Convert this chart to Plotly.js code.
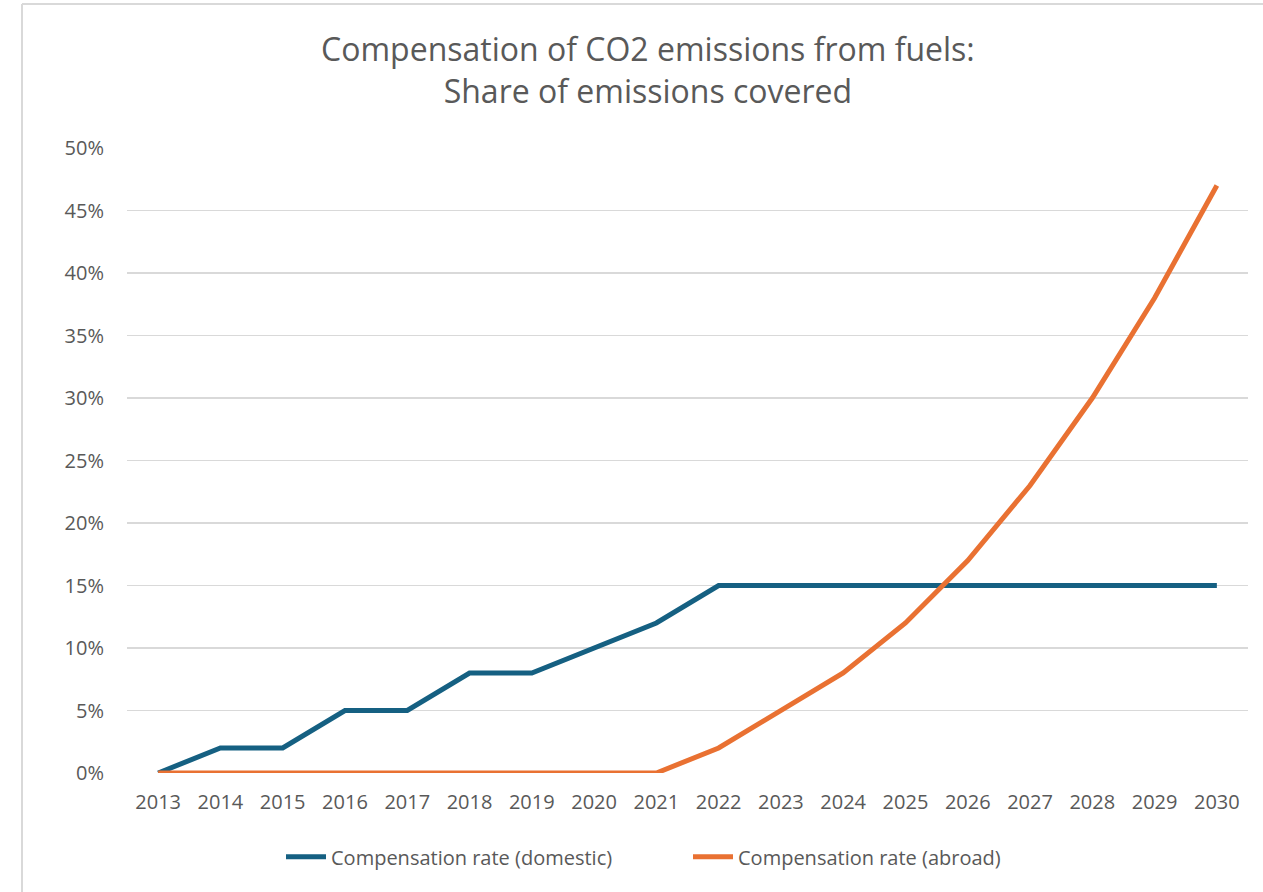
<!DOCTYPE html>
<html>
<head>
<meta charset="utf-8">
<script src="https://cdn.plot.ly/plotly-3.0.1.min.js"></script>
<style>
html,body{margin:0;padding:0;background:#fff;}
#chart{width:1263px;height:892px;}
</style>
</head>
<body>
<div id="chart"></div>
<script>
const years = [2013,2014,2015,2016,2017,2018,2019,2020,2021,2022,2023,2024,2025,2026,2027,2028,2029,2030];
const domestic = [0,2,2,5,5,8,8,10,12,15,15,15,15,15,15,15,15,15];
const abroad = [0,0,0,0,0,0,0,0,0,2,5,8,12,17,23,30,38,47];
const seriesNames = ['Compensation rate (domestic)', 'Compensation rate (abroad)'];
const yTicks = [0,5,10,15,20,25,30,35,40,45,50];
const yTickLabels = yTicks.map(v => v + '%');

const font = '"Open Sans", Roboto, sans-serif';
const grey = '#595959';

const traces = [
  {x: years, y: domestic, name: seriesNames[0], type: 'scatter', mode: 'lines',
   line: {color: '#156082', width: 5}},
  {x: years, y: abroad, name: seriesNames[1], type: 'scatter', mode: 'lines',
   line: {color: '#E97132', width: 5}}
];

const layout = {
  width: 1263, height: 892,
  paper_bgcolor: '#fff', plot_bgcolor: '#fff',
  margin: {l: 127, r: 15, t: 148, b: 119},
  title: {text: 'Compensation of CO2 emissions from fuels:<br>Share of emissions covered',
          font: {family: font, size: 32, color: grey},
          xref: 'container', x: 0.513, xanchor: 'center',
          yref: 'container', y: 1 - 61/892, yanchor: 'middle'},
  xaxis: {range: [2012.5, 2030.5], tickmode: 'array', tickvals: years,
          ticktext: years.map(String), showgrid: false, zeroline: false,
          showline: false, ticks: '', ticklabelstandoff: 15,
          tickfont: {family: font, size: 20, color: grey}, fixedrange: true},
  yaxis: {range: [0, 50], tickmode: 'array', tickvals: yTicks, ticktext: yTickLabels,
          showgrid: true, gridcolor: '#d9d9d9', gridwidth: 1.8, zeroline: false,
          showline: false, ticks: '', ticklabelstandoff: 22,
          tickfont: {family: font, size: 20, color: grey}, fixedrange: true},
  legend: {orientation: 'h', x: (688-127)/1121, xanchor: 'center', y: -0.134, yanchor: 'middle',
           font: {family: font, size: 20, color: grey}, itemwidth: 40,
           entrywidth: 352, entrywidthmode: 'pixels',
           traceorder: 'normal', tracegroupgap: 0},
  showlegend: true,
  shapes: [
    {type: 'line', xref: 'paper', yref: 'paper', x0: (22-127)/1121, x1: (1263-127)/1121 + 0.01,
     y0: (773-4)/625, y1: (773-4)/625, line: {color: '#d9d9d9', width: 2}},
    {type: 'line', xref: 'paper', yref: 'paper', x0: (22-127)/1121, x1: (22-127)/1121,
     y0: (773-4)/625, y1: (773-900)/625, line: {color: '#d9d9d9', width: 2}}
  ]
};

Plotly.newPlot('chart', traces, layout, {displayModeBar: false, staticPlot: true});
</script>
</body>
</html>
